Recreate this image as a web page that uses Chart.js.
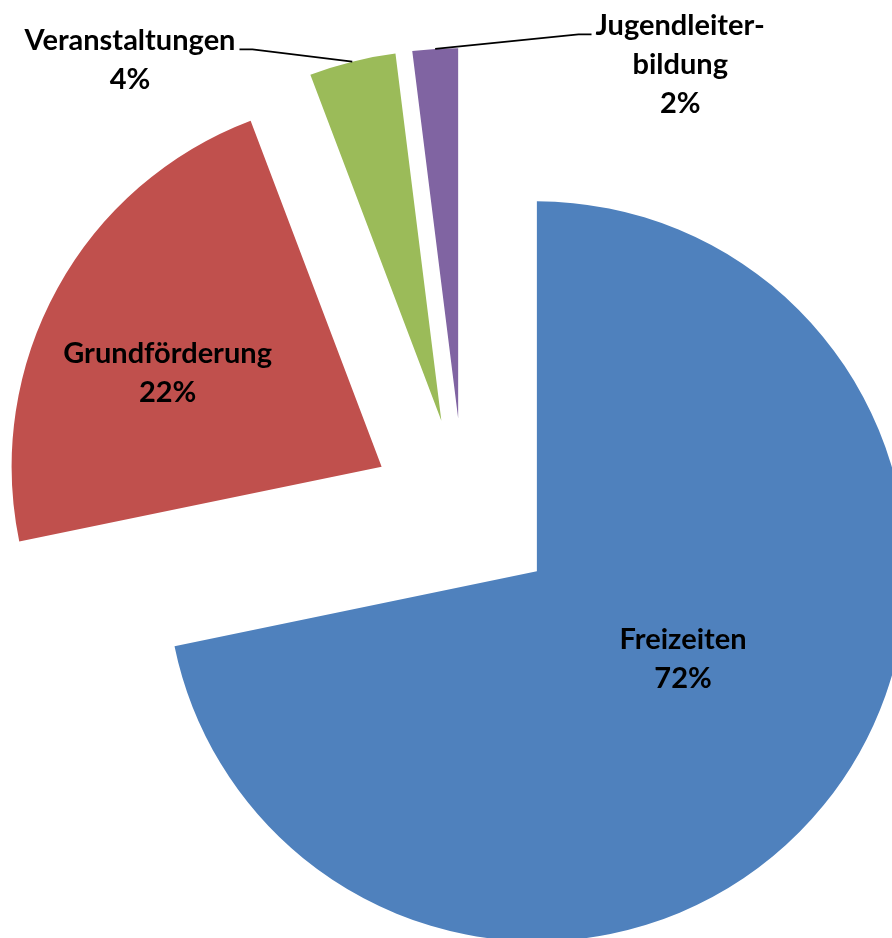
<!DOCTYPE html>
<html>
<head>
<meta charset="utf-8">
<script src="https://cdn.jsdelivr.net/npm/chart.js@4/dist/chart.umd.min.js"></script>
<style>
  html, body { margin: 0; padding: 0; background: #fff; }
  canvas { display: block; }
</style>
</head>
<body>
<canvas id="pieChart" width="892" height="938"></canvas>
<script>
// slice data (percent shares)
const categories = ['Freizeiten', 'Grundförderung', 'Veranstaltungen', 'Jugendleiter-\nbildung'];
const shares = [71.76, 22.48, 3.78, 1.98];
const sliceColors = ['#4F81BD', '#C0504D', '#9BBB59', '#8064A2'];

// label placement: fraction of radius from the slice apex + angle tweak (deg)
const labelRadius = [0.46, 0.633, 1.289, 1.13];
const labelAngle = [-8.37, -4.83, -26.82, 35.64];
const outsideLabel = [false, false, true, true];

const explode = 94;      // px every slice is pulled out from the centre
const pieRadius = 370;
const fontSize = 29;
const lineGap = 39;

const total = shares.reduce((a, b) => a + b, 0);

// built-in "offset" also grows the radius of thin slices in v4,
// so pull every arc out by moving its centre instead
const explodePlugin = {
    id: 'explodeSlices',
    afterUpdate(chart) {
        const area = chart.chartArea;
        const cx = (area.left + area.right) / 2;
        const cy = (area.top + area.bottom) / 2;
        chart.getDatasetMeta(0).data.forEach(arc => {
            const mid = (arc.startAngle + arc.endAngle) / 2;
            arc.x = cx + Math.cos(mid) * explode;
            arc.y = cy + Math.sin(mid) * explode;
        });
    }
};

const labelPlugin = {
    id: 'sliceLabels',
    afterDatasetsDraw(chart) {
        const ctx = chart.ctx;
        const meta = chart.getDatasetMeta(0);
        ctx.save();
        ctx.font = 'bold ' + fontSize + 'px Lato, "Open Sans", sans-serif';
        ctx.fillStyle = '#000';
        ctx.strokeStyle = '#000';
        ctx.lineWidth = 1.75;
        ctx.textAlign = 'center';
        ctx.textBaseline = 'alphabetic';

        meta.data.forEach((arc, i) => {
            const mid = (arc.startAngle + arc.endAngle) / 2;
            const ang = mid + labelAngle[i] * Math.PI / 180;
            const dist = arc.outerRadius * labelRadius[i];
            const cx = arc.x + Math.cos(ang) * dist;
            const cy = arc.y + Math.sin(ang) * dist;

            const lines = categories[i].split('\n');
            lines.push(Math.round(shares[i] / total * 100) + '%');
            const capH = fontSize * 0.72;
            const blockH = capH + (lines.length - 1) * lineGap;
            const firstBase = cy - blockH / 2 + capH;

            lines.forEach((t, j) => ctx.fillText(t, cx, firstBase + j * lineGap));

            if (outsideLabel[i]) {
                // leader line: short horizontal stub, then to the middle of the outer arc
                const edgeX = arc.x + Math.cos(mid) * arc.outerRadius;
                const edgeY = arc.y + Math.sin(mid) * arc.outerRadius;
                const w = ctx.measureText(lines[0]).width;
                const side = cx < edgeX ? 1 : -1;
                const startX = cx + side * (w / 2 + 4);
                const elbowX = startX + side * 13;
                const lineY = firstBase - 1;
                ctx.beginPath();
                ctx.moveTo(startX, lineY);
                ctx.lineTo(elbowX, lineY);
                ctx.lineTo(edgeX, edgeY);
                ctx.stroke();
            }
        });
        ctx.restore();
    }
};

new Chart(document.getElementById('pieChart'), {
    type: 'pie',
    data: {
        labels: categories,
        datasets: [{
            data: shares,
            backgroundColor: sliceColors,
            borderWidth: 0,
            hoverOffset: 0,
            radius: pieRadius,
            clip: false
        }]
    },
    options: {
        responsive: false,
        animation: false,
        events: [],
        layout: { padding: { left: 36, top: 86, right: 0, bottom: 0 } },
        plugins: {
            legend: { display: false },
            tooltip: { enabled: false }
        }
    },
    plugins: [explodePlugin, labelPlugin]
});
</script>
</body>
</html>
